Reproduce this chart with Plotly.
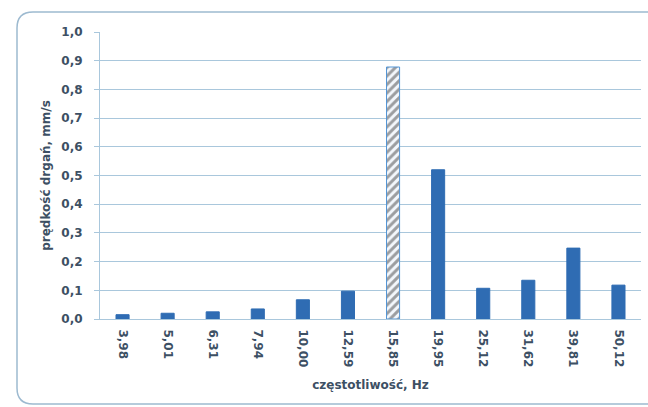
from plotly import graph_objects as go

# frequency bands (Hz) and vibration velocity (mm/s)
freqs = ["3,98", "5,01", "6,31", "7,94", "10,00", "12,59",
         "15,85", "19,95", "25,12", "31,62", "39,81", "50,12"]
velocity = [0.015, 0.02, 0.025, 0.035, 0.067, 0.097,
            0.878, 0.52, 0.107, 0.135, 0.247, 0.118]
highlight = "15,85"

y_ticks = [0.0, 0.1, 0.2, 0.3, 0.4, 0.5, 0.6, 0.7, 0.8, 0.9, 1.0]

blue = "#2f6cb3"
grid = "#a9c7dc"
text_col = "#3d5064"
font_family = "DejaVu Sans, Arial, sans-serif"

W, H = 648, 407
ml, mr, mt, mb = 100, 7, 32, 88
pw, ph = W - ml - mr, H - mt - mb


def px_x(p):
    return (p - ml) / pw


def px_y(p):
    return (H - mb - p) / ph


fig = go.Figure()

is_hl = [f == highlight for f in freqs]

fig.add_trace(go.Bar(
    x=freqs,
    y=velocity,
    marker=dict(
        color=["#f3f7fc" if h else blue for h in is_hl],
        line=dict(color=["#5596d6" if h else blue for h in is_hl], width=1),
        pattern=dict(shape=["/" if h else "" for h in is_hl], fgcolor="#4b8fd6",
                     size=6, solidity=0.5, fillmode="overlay"),
    ),
    showlegend=False,
))

# rounded outer frame of the chart (open on the right, runs off the page)
x0, x1 = px_x(17), px_x(648)
y0, y1 = px_y(404), px_y(12)
rx, ry = 16 / pw, 16 / ph
path = (f"M {x1},{y1} L {x0+rx},{y1} Q {x0},{y1} {x0},{y1-ry} "
        f"L {x0},{y0+ry} Q {x0},{y0} {x0+rx},{y0} L {x1},{y0}")
fig.add_shape(type="path", path=path, xref="paper", yref="paper",
              line=dict(color="#9dbad0", width=1.5))

fig.update_layout(
    width=W, height=H,
    margin=dict(l=ml, r=mr, t=mt, b=mb),
    paper_bgcolor="white",
    plot_bgcolor="white",
    separators=",.",
    bargap=0.71,
    font=dict(family=font_family, color=text_col, size=12),
)

fig.update_yaxes(
    range=[0, 1.0],
    tickvals=y_ticks,
    tickformat=".1f",
    showgrid=True, gridcolor=grid, gridwidth=1,
    showline=True, linecolor=grid, linewidth=1,
    ticks="outside", ticklen=5, tickcolor=grid,
    tickfont=dict(family=font_family, size=12, color=text_col, weight="bold"),
    ticklabelstandoff=9,
    zeroline=False,
    title=dict(text="<b>prędkość drgań, mm/s</b>", standoff=8,
               font=dict(family=font_family, size=12, color=text_col)),
)

fig.update_xaxes(
    type="category",
    tickangle=90,
    showline=True, linecolor=grid, linewidth=1,
    showgrid=False,
    tickfont=dict(family=font_family, size=12, color=text_col, weight="bold"),
    ticklabelstandoff=7,
    title=dict(text="<b>częstotliwość, Hz</b>", standoff=14,
               font=dict(family=font_family, size=12, color=text_col)),
)

# drop the default page margin so the 648x407 figure fills the window
fig.write_html("out.html", config={"displayModeBar": False},
               post_script="document.body.style.margin='0';")
